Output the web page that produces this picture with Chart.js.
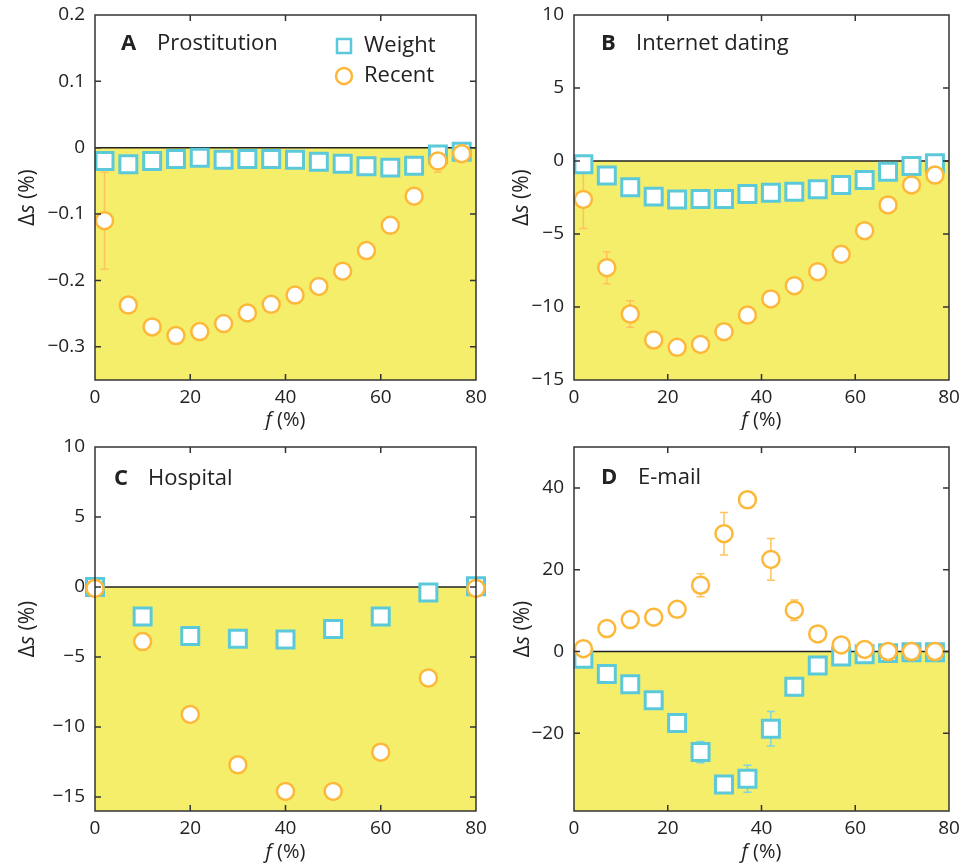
<!DOCTYPE html>
<html>
<head>
<meta charset="utf-8">
<script src="https://cdn.jsdelivr.net/npm/chart.js@4.4.1/dist/chart.umd.min.js"></script>
<style>
  body { margin: 0; background: #fff; }
  #wrap { position: relative; width: 964px; height: 863px; overflow: hidden; }
  canvas { position: absolute; }
</style>
</head>
<body>
<div id="wrap">
  <canvas id="chartA" width="500" height="430" style="left:0;top:0"></canvas>
  <canvas id="chartB" width="482" height="430" style="left:482px;top:0"></canvas>
  <canvas id="chartC" width="500" height="433" style="left:0;top:430px"></canvas>
  <canvas id="chartD" width="482" height="433" style="left:482px;top:430px"></canvas>
</div>
<script>
'use strict';

// ---- data ----
var xTicks = [0, 20, 40, 60, 80];
var xTickLabels = ['0', '20', '40', '60', '80'];

// A - Prostitution
var fA = [2, 7, 12, 17, 22, 27, 32, 37, 42, 47, 52, 57, 62, 67, 72, 77];
var weightA = [-0.020, -0.025, -0.020, -0.017, -0.015, -0.018, -0.017, -0.017, -0.018, -0.021, -0.024, -0.028, -0.030, -0.027, -0.010, -0.006];
var recentA = [-0.110, -0.237, -0.270, -0.283, -0.277, -0.265, -0.249, -0.236, -0.222, -0.209, -0.186, -0.155, -0.117, -0.073, -0.020, -0.009];
var recentErrA = [0.073, 0, 0, 0, 0, 0, 0, 0, 0, 0, 0, 0, 0, 0, 0.017, 0];
var yTicksA = [-0.3, -0.2, -0.1, 0, 0.1, 0.2];
var yLabelsA = ['\u22120.3', '\u22120.2', '\u22120.1', '0', '0.1', '0.2'];

// B - Internet dating
var fB = [2, 7, 12, 17, 22, 27, 32, 37, 42, 47, 52, 57, 62, 67, 72, 77];
var weightB = [-0.23, -1.00, -1.80, -2.44, -2.63, -2.60, -2.60, -2.26, -2.17, -2.10, -1.94, -1.64, -1.30, -0.73, -0.34, -0.16];
var recentB = [-2.63, -7.31, -10.48, -12.26, -12.76, -12.56, -11.69, -10.55, -9.45, -8.54, -7.58, -6.39, -4.77, -3.01, -1.64, -0.96];
var recentErrB = [2.0, 1.1, 0.9, 0, 0, 0, 0, 0, 0, 0, 0, 0, 0, 0, 0, 0];
var yTicksB = [-15, -10, -5, 0, 5, 10];
var yLabelsB = ['\u221215', '\u221210', '\u22125', '0', '5', '10'];

// C - Hospital
var fC = [0, 10, 20, 30, 40, 50, 60, 70, 80];
var weightC = [0, -2.1, -3.5, -3.7, -3.75, -3.0, -2.1, -0.4, 0.05];
var recentC = [-0.1, -3.9, -9.1, -12.7, -14.6, -14.6, -11.8, -6.5, -0.1];
var yTicksC = [-15, -10, -5, 0, 5, 10];
var yLabelsC = ['\u221215', '\u221210', '\u22125', '0', '5', '10'];

// D - E-mail
var fD = [2, 7, 12, 17, 22, 27, 32, 37, 42, 47, 52, 57, 62, 67, 72, 77];
var weightD = [-1.8, -5.5, -8.0, -11.9, -17.5, -24.6, -32.5, -31.1, -18.9, -8.6, -3.4, -1.2, -0.7, -0.4, -0.2, -0.2];
var weightErrD = [0, 0, 0, 0, 0, 2.6, 0, 3.3, 4.2, 2.2, 0, 0, 0, 0, 0, 0];
var recentD = [0.7, 5.6, 7.8, 8.4, 10.3, 16.2, 28.8, 37.1, 22.5, 10.1, 4.3, 1.6, 0.5, 0, 0, 0];
var recentErrD = [0, 0, 0, 0, 0, 2.8, 5.2, 0, 5.1, 2.5, 0, 0, 0, 0, 0, 0];
var yTicksD = [-20, 0, 20, 40];
var yLabelsD = ['\u221220', '0', '20', '40'];

// ---- styles ----
var YELLOW = '#f5ee6b';
var CYAN = '#5bc9da';
var ORANGE = '#fdb83a';
var FRAME = '#333333';
var TEXT = '#222222';
var FONT = '"Open Sans", "DejaVu Sans", sans-serif';

function toPoints(xs, ys) {
  return xs.map(function (x, i) { return {x: x, y: ys[i]}; });
}

// draws text pieces, some in italic, one after the other
function drawParts(ctx, parts, x, y, size, align) {
  var total = 0;
  parts.forEach(function (p) {
    ctx.font = (p.italic ? 'italic ' : '') + size + 'px ' + FONT;
    p.w = ctx.measureText(p.text).width;
    total += p.w;
  });
  var cx = align === 'center' ? x - total / 2 : x;
  parts.forEach(function (p) {
    ctx.font = (p.italic ? 'italic ' : '') + size + 'px ' + FONT;
    ctx.fillText(p.text, cx, y);
    cx += p.w;
  });
}

var panelPlugin = {
  id: 'panel',
  beforeDatasetsDraw: function (chart, args, opts) {
    var ctx = chart.ctx, area = chart.chartArea;
    var yScale = chart.scales.y, xScale = chart.scales.x;
    var zero = yScale.getPixelForValue(0);
    ctx.save();
    // shaded region below zero
    ctx.fillStyle = YELLOW;
    ctx.fillRect(area.left, zero, area.right - area.left, area.bottom - zero);
    ctx.strokeStyle = TEXT;
    ctx.lineWidth = 1.5;
    ctx.beginPath();
    ctx.moveTo(area.left, zero);
    ctx.lineTo(area.right, zero);
    ctx.stroke();

    // error bars
    chart.data.datasets.forEach(function (ds) {
      if (!ds.errors) return;
      ctx.strokeStyle = ds.errorColor;
      ctx.lineWidth = 1.5;
      ds.data.forEach(function (p, i) {
        var e = ds.errors[i];
        if (!e) return;
        var px = xScale.getPixelForValue(p.x);
        var top = yScale.getPixelForValue(p.y + e);
        var bot = yScale.getPixelForValue(p.y - e);
        ctx.beginPath();
        ctx.moveTo(px, top); ctx.lineTo(px, bot);
        ctx.moveTo(px - 4, top); ctx.lineTo(px + 4, top);
        ctx.moveTo(px - 4, bot); ctx.lineTo(px + 4, bot);
        ctx.stroke();
      });
    });
    ctx.restore();
  },
  afterDraw: function (chart, args, opts) {
    var ctx = chart.ctx, area = chart.chartArea;
    var yScale = chart.scales.y, xScale = chart.scales.x;
    ctx.save();

    // frame
    ctx.strokeStyle = FRAME;
    ctx.lineWidth = 1.5;
    ctx.strokeRect(area.left, area.top, area.right - area.left, area.bottom - area.top);

    // inward ticks on all four sides
    ctx.beginPath();
    xScale.ticks.forEach(function (t) {
      var px = xScale.getPixelForValue(t.value);
      if (px <= area.left + 1 || px >= area.right - 1) return;
      ctx.moveTo(px, area.top); ctx.lineTo(px, area.top + 6);
      ctx.moveTo(px, area.bottom); ctx.lineTo(px, area.bottom - 6);
    });
    yScale.ticks.forEach(function (t) {
      var py = yScale.getPixelForValue(t.value);
      if (py <= area.top + 1 || py >= area.bottom - 1) return;
      ctx.moveTo(area.left, py); ctx.lineTo(area.left + 6, py);
      ctx.moveTo(area.right, py); ctx.lineTo(area.right - 6, py);
    });
    ctx.stroke();

    ctx.fillStyle = TEXT;
    ctx.textBaseline = 'middle';

    // x title: f (%)
    drawParts(ctx, [{text: 'f', italic: true}, {text: ' (%)'}],
      (area.left + area.right) / 2, area.bottom + opts.xTitleGap, 20, 'center');

    // y title: Δs (%)
    ctx.save();
    ctx.translate(opts.yTitleX, (area.top + area.bottom) / 2);
    ctx.rotate(-Math.PI / 2);
    drawParts(ctx, [{text: '\u0394'}, {text: 's', italic: true}, {text: ' (%)'}], 0, 0, 21, 'center');
    ctx.restore();

    // panel letter and name
    ctx.textAlign = 'left';
    ctx.font = 'bold 22px ' + FONT;
    ctx.fillText(opts.letter, opts.letterX, opts.labelY);
    ctx.font = '22px ' + FONT;
    ctx.fillText(opts.name, opts.nameX, opts.labelY);

    // legend (panel A only)
    if (opts.legend) {
      var lx = opts.legend.x, ly = opts.legend.y;
      chart.data.datasets.forEach(function (ds, i) {
        var cy = ly + i * 30;
        ctx.strokeStyle = ds.borderColor;
        ctx.fillStyle = '#fff';
        ctx.lineWidth = 2.5;
        ctx.beginPath();
        if (ds.pointStyle === 'rect') {
          ctx.rect(lx - 7, cy - 7, 14, 14);
        } else {
          ctx.arc(lx, cy, 8, 0, Math.PI * 2);
        }
        ctx.fill();
        ctx.stroke();
        ctx.fillStyle = TEXT;
        ctx.font = '22px ' + FONT;
        ctx.fillText(ds.label, lx + 20, cy);
      });
    }
    ctx.restore();
  }
};

function makeDatasets(fs, weight, recent, weightErr, recentErr) {
  return [{
    label: 'Weight',
    data: toPoints(fs, weight),
    errors: weightErr,
    errorColor: '#7fd3e2',
    pointStyle: 'rect',
    pointRadius: 12,
    pointHoverRadius: 12,
    borderWidth: 3,
    borderColor: CYAN,
    backgroundColor: '#ffffff',
    showLine: false,
    clip: false,
    order: 1
  }, {
    label: 'Recent',
    data: toPoints(fs, recent),
    errors: recentErr,
    errorColor: '#fdc35f',
    pointStyle: 'circle',
    pointRadius: 8.5,
    pointHoverRadius: 8.5,
    borderWidth: 2.5,
    borderColor: ORANGE,
    backgroundColor: '#ffffff',
    showLine: false,
    clip: false,
    order: 0
  }];
}

function makeChart(id, datasets, yMin, yMax, yTicks, yLabels, layout, panel) {
  return new Chart(document.getElementById(id), {
    type: 'scatter',
    data: {datasets: datasets},
    plugins: [panelPlugin],
    options: {
      responsive: false,
      animation: false,
      events: [],
      layout: {padding: {top: layout.top, right: layout.right, left: 0, bottom: 0}},
      plugins: {
        legend: {display: false},
        tooltip: {enabled: false},
        panel: panel
      },
      scales: {
        x: {
          type: 'linear',
          min: 0,
          max: 80,
          grid: {display: false, drawTicks: false},
          border: {display: false},
          afterBuildTicks: function (s) {
            s.ticks = xTicks.map(function (v) { return {value: v}; });
          },
          afterFit: function (s) {
            s.height = layout.bottom;
            s.paddingLeft = 0;
            s.paddingRight = 0;
          },
          ticks: {
            padding: 6,
            color: TEXT,
            font: {family: FONT, size: 19},
            maxRotation: 0,
            callback: function (v, i) { return xTickLabels[i]; }
          }
        },
        y: {
          type: 'linear',
          min: yMin,
          max: yMax,
          grid: {display: false, drawTicks: false},
          border: {display: false},
          afterBuildTicks: function (s) {
            s.ticks = yTicks.map(function (v) { return {value: v}; });
          },
          afterFit: function (s) {
            s.width = layout.left;
            s.paddingTop = 0;
            s.paddingBottom = 0;
          },
          ticks: {
            padding: 10,
            color: TEXT,
            font: {family: FONT, size: 19},
            callback: function (v, i) { return yLabels[i]; }
          }
        }
      }
    }
  });
}

makeChart('chartA', makeDatasets(fA, weightA, recentA, null, recentErrA),
  -0.35, 0.2, yTicksA, yLabelsA,
  {top: 15, right: 24, left: 95, bottom: 50},
  {letter: 'A', name: 'Prostitution', letterX: 121, nameX: 157, labelY: 44,
   yTitleX: 28, xTitleGap: 40, legend: {x: 344, y: 46}});

makeChart('chartB', makeDatasets(fB, weightB, recentB, null, recentErrB),
  -15, 10, yTicksB, yLabelsB,
  {top: 15, right: 9, left: 92, bottom: 50},
  {letter: 'B', name: 'Internet dating', letterX: 119, nameX: 154, labelY: 44,
   yTitleX: 40, xTitleGap: 40});

makeChart('chartC', makeDatasets(fC, weightC, recentC, null, null),
  -16, 10, yTicksC, yLabelsC,
  {top: 17, right: 24, left: 95, bottom: 52},
  {letter: 'C', name: 'Hospital', letterX: 114, nameX: 148, labelY: 49,
   yTitleX: 28, xTitleGap: 41});

makeChart('chartD', makeDatasets(fD, weightD, recentD, weightErrD, recentErrD),
  -39, 50, yTicksD, yLabelsD,
  {top: 17, right: 9, left: 92, bottom: 52},
  {letter: 'D', name: 'E-mail', letterX: 119, nameX: 156, labelY: 48,
   yTitleX: 41, xTitleGap: 41});
</script>
</body>
</html>
